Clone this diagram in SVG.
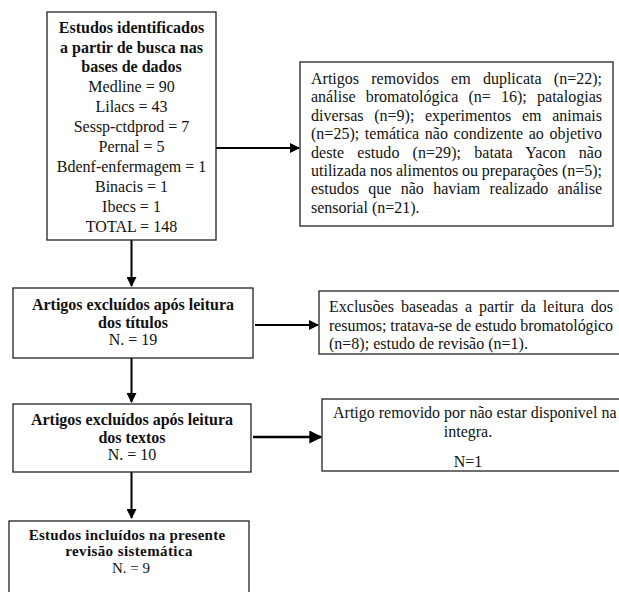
<svg xmlns="http://www.w3.org/2000/svg" width="619" height="592" viewBox="0 0 619 592">
<style>
.box{fill:#fff;stroke:#222;stroke-width:1.3}
text{font-family:'Liberation Serif','DejaVu Serif',serif;fill:#111}
.b{font-weight:bold;font-size:16px}
.r{font-size:16px}
.c{text-anchor:middle}
.ln{stroke:#000;stroke-width:2;fill:none}
</style>
<defs>
<marker id="ah" viewBox="0 0 10 10" refX="9" refY="5" markerWidth="5" markerHeight="5" orient="auto" markerUnits="strokeWidth">
<path d="M0,0 L10,5 L0,10 z" fill="#000"/>
</marker>
</defs>
<rect width="619" height="592" fill="#fff"/>
<g id="connectors">
<line class="ln" x1="216" y1="148" x2="299" y2="148" marker-end="url(#ah)"/>
<line class="ln" x1="131.5" y1="240" x2="131.5" y2="286" marker-end="url(#ah)"/>
<line class="ln" x1="255" y1="325" x2="318" y2="325" marker-end="url(#ah)"/>
<line class="ln" x1="131.5" y1="358" x2="131.5" y2="402" marker-end="url(#ah)"/>
<line class="ln" style="stroke-width:2.6" x1="253" y1="437" x2="321" y2="437" marker-end="url(#ah)"/>
<line class="ln" x1="131.5" y1="472" x2="131.5" y2="518" marker-end="url(#ah)"/>
</g>
<g font-family="Liberation Serif, DejaVu Serif, serif">
<g id="n1">
<rect class="box" x="47" y="12" width="169" height="228"/>
<text class="b c" x="131.5" y="33">Estudos identificados</text>
<text class="b c" x="131.5" y="53">a partir de busca nas</text>
<text class="b c" x="131.5" y="72">bases de dados</text>
<text class="r c" x="131.5" y="92">Medline = 90</text>
<text class="r c" x="131.5" y="112">Lilacs = 43</text>
<text class="r c" x="131.5" y="132">Sessp-ctdprod = 7</text>
<text class="r c" x="131.5" y="152">Pernal = 5</text>
<text class="r c" x="131.5" y="172">Bdenf-enfermagem = 1</text>
<text class="r c" x="131.5" y="192">Binacis = 1</text>
<text class="r c" x="131.5" y="212">Ibecs = 1</text>
<text class="r c" x="131.5" y="232">TOTAL = 148</text>
</g>
<g id="n2">
<rect class="box" x="300" y="62" width="313" height="164"/>
<text class="r" x="311" y="84" word-spacing="8.2" textLength="291" lengthAdjust="spacing">Artigos removidos em duplicata (n=22);</text>
<text class="r" x="311" y="102.4" word-spacing="6.2" textLength="291" lengthAdjust="spacing">análise bromatológica (n= 16); patalogias</text>
<text class="r" x="311" y="120.8" word-spacing="6.6" textLength="291" lengthAdjust="spacing">diversas (n=9); experimentos em animais</text>
<text class="r" x="311" y="139.2" word-spacing="1.6" textLength="291" lengthAdjust="spacing">(n=25); temática não condizente ao objetivo</text>
<text class="r" x="311" y="157.6" word-spacing="9" textLength="291" lengthAdjust="spacing">deste estudo (n=29); batata Yacon não</text>
<text class="r" x="311" y="176" word-spacing="-0.2" textLength="291" lengthAdjust="spacing">utilizada nos alimentos ou preparações (n=5);</text>
<text class="r" x="311" y="194.4" word-spacing="5.3" textLength="291" lengthAdjust="spacing">estudos que não haviam realizado análise</text>
<text class="r" x="311" y="212.8">sensorial (n=21).</text>
</g>
<g id="n3">
<rect class="box" x="13" y="288" width="240" height="70"/>
<text class="b c" x="133" y="310">Artigos excluídos após leitura</text>
<text class="b c" x="133" y="327.5">dos títulos</text>
<text class="r c" x="133" y="345">N. = 19</text>
</g>
<g id="n4">
<rect class="box" x="319" y="291" width="310" height="63"/>
<text class="r" x="329" y="312" word-spacing="3" textLength="284" lengthAdjust="spacing">Exclusões baseadas a partir da leitura dos</text>
<text class="r" x="329" y="331" textLength="284" lengthAdjust="spacing">resumos; tratava-se de estudo bromatológico</text>
<text class="r" x="329" y="349">(n=8); estudo de revisão (n=1).</text>
</g>
<g id="n5">
<rect class="box" x="13" y="404" width="238" height="68"/>
<text class="b c" x="132" y="425">Artigos excluídos após leitura</text>
<text class="b c" x="132" y="442.5">dos textos</text>
<text class="r c" x="132" y="460">N. = 10</text>
</g>
<g id="n6">
<rect class="box" x="322" y="399" width="310" height="72"/>
<text class="r" x="333" y="418">Artigo removido por não estar disponivel na</text>
<text class="r c" x="468" y="437">integra.</text>
<text class="r c" x="468" y="467">N=1</text>
</g>
<g id="n7">
<rect class="box" x="9" y="521" width="240" height="90"/>
<text class="b c" x="127" y="539.5" style="font-size:15px;letter-spacing:0.25px">Estudos incluídos na presente</text>
<text class="b c" x="129" y="556" style="font-size:15px;letter-spacing:0.4px">revisão sistemática</text>
<text class="r c" x="131" y="572.5" style="font-size:15px">N. = 9</text>
</g>
</g>
</svg>
